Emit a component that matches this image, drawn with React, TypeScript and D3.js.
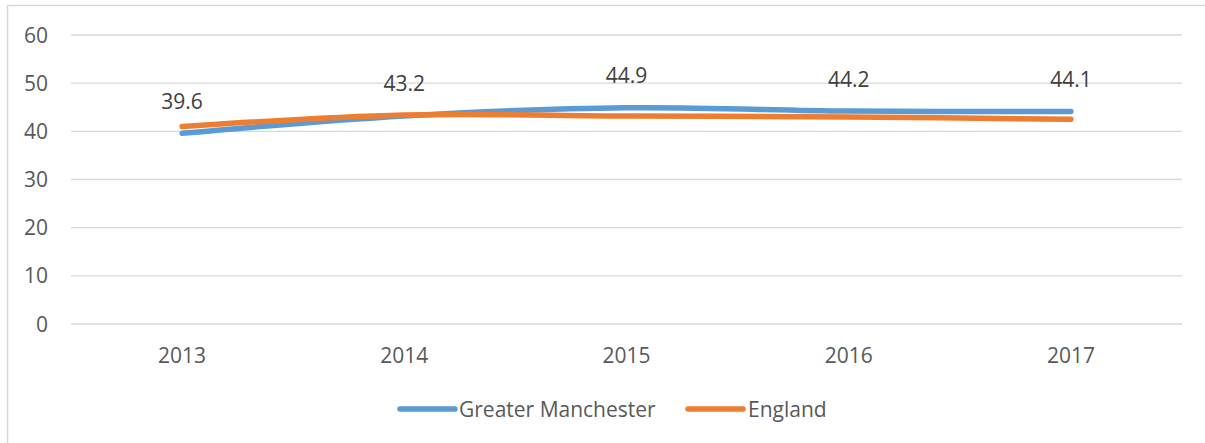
import React from "react";
import * as d3 from "d3";

// Data
const years = ["2013", "2014", "2015", "2016", "2017"];
const greaterManchester = [39.6, 43.2, 44.9, 44.2, 44.1];
const england = [41.0, 43.4, 43.2, 43.0, 42.5];
const yTicks = [0, 10, 20, 30, 40, 50, 60];

const W = 1205;
const H = 443;
const FONT = "'Open Sans', 'Noto Sans', sans-serif";
const TEXT = "#595959";
const FS = 21;

const series = [
  { name: "Greater Manchester", values: greaterManchester, color: "#5B9BD5", labels: true },
  { name: "England", values: england, color: "#ED7D31", labels: false },
];

export default function App() {
  const plot = { left: 71, right: 1182, top: 35, bottom: 324 };

  const x = d3.scaleBand<string>().domain(years).range([plot.left, plot.right]).padding(0);
  const y = d3.scaleLinear().domain([0, 60]).range([plot.bottom, plot.top]);
  const cx = (yr: string) => (x(yr) ?? 0) + x.bandwidth() / 2;

  const line = d3
    .line<number>()
    .x((_, i) => cx(years[i]))
    .y((d) => y(d))
    .curve(d3.curveCardinal.tension(0));

  // legend layout
  const legend = [
    { lineX: 400, textX: 459 },
    { lineX: 688, textX: 748 },
  ];
  const legendY = 409;

  return (
    <svg
      width={W}
      height={H}
      style={{ position: "absolute", left: 0, top: 0, background: "#fff" }}
      fontFamily={FONT}
    >
      <rect x={7.5} y={5.5} width={W + 10} height={H + 10} fill="#fff" stroke="#d9d9d9" strokeWidth={1.5} />

      {/* gridlines */}
      {yTicks.map((t) => (
        <line key={t} x1={plot.left} x2={plot.right} y1={y(t)} y2={y(t)} stroke="#d9d9d9" strokeWidth={1.3} />
      ))}

      {/* y-axis labels */}
      {yTicks.map((t) => (
        <text key={t} x={48} y={y(t)} dy="0.36em" textAnchor="end" fontSize={FS} fill={TEXT}>
          {t}
        </text>
      ))}

      {/* x-axis labels */}
      {years.map((yr) => (
        <text key={yr} x={cx(yr)} y={355} dy="0.36em" textAnchor="middle" fontSize={FS} fill={TEXT}>
          {yr}
        </text>
      ))}

      {/* lines */}
      {series.map((s) => (
        <path
          key={s.name}
          d={line(s.values) ?? ""}
          fill="none"
          stroke={s.color}
          strokeWidth={5.5}
          strokeLinecap="round"
          strokeLinejoin="round"
        />
      ))}

      {/* data labels */}
      {series
        .filter((s) => s.labels)
        .map((s) =>
          s.values.map((v, i) => (
            <text
              key={s.name + i}
              x={cx(years[i])}
              y={y(v) - 32}
              dy="0.36em"
              textAnchor="middle"
              fontSize={FS}
              fill="#404040"
            >
              {v.toFixed(1)}
            </text>
          ))
        )}

      {/* legend */}
      {series.map((s, i) => (
        <g key={s.name}>
          <line
            x1={legend[i].lineX}
            x2={legend[i].lineX + 55}
            y1={legendY}
            y2={legendY}
            stroke={s.color}
            strokeWidth={5.5}
            strokeLinecap="round"
          />
          <text x={legend[i].textX} y={legendY} dy="0.36em" fontSize={FS} fill={TEXT}>
            {s.name}
          </text>
        </g>
      ))}
    </svg>
  );
}
